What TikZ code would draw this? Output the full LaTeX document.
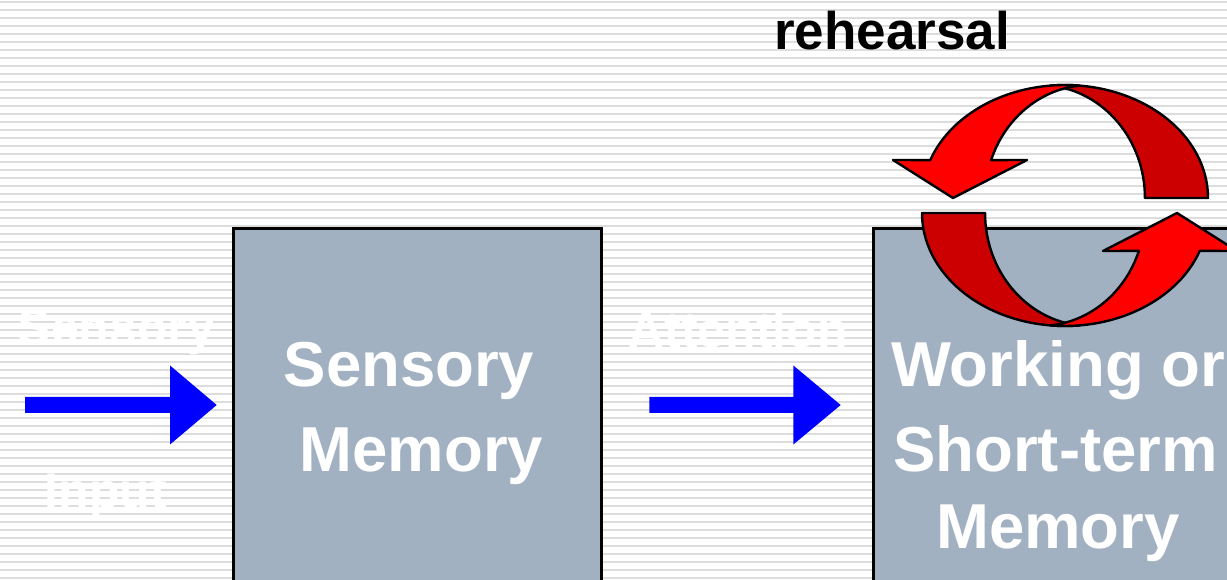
\documentclass[tikz,border=0pt]{standalone}
\usepackage{fontspec}
\setmainfont{Liberation Sans}
\definecolor{stripegray}{RGB}{221,221,221}
\definecolor{boxgray}{RGB}{162,177,194}
\definecolor{arrowblue}{RGB}{0,0,255}
\definecolor{lightred}{RGB}{255,0,0}
\definecolor{darkred}{RGB}{204,0,0}
\begin{document}
\begin{tikzpicture}[x=1pt,y=1pt,
  memtext/.style={text=white,font=\fontsize{63.5}{63.5}\selectfont\bfseries,inner sep=0pt,anchor=base},
  hidtext/.style={text=white,font=\fontsize{50}{50}\selectfont\bfseries,inner sep=0pt,anchor=base},
  titletext/.style={text=black,font=\fontsize{53}{53}\selectfont\bfseries,inner sep=0pt,anchor=base},
  membox/.style={draw=black,line width=3pt,fill=boxgray},
  blockarrow/.style={fill=arrowblue},
  ribbonfront/.style={draw=black,line width=2.4pt,fill=lightred,line join=round},
  ribbonback/.style={draw=black,line width=2.4pt,fill=darkred,line join=round}]
\useasboundingbox (0,0) rectangle (1227,579);
\clip (0,0) rectangle (1227,579);
\fill[white] (0,0) rectangle (1227,579);
% striped background
\foreach \k in {0,...,72}
  \fill[stripegray] (0,{579-8*\k-1}) rectangle (1227,{579-8*\k-2.8});

% faint labels
\node[hidtext] (sensin1) at (116.5,234) {Sensory};
\node[hidtext] (sensin2) at (106,71) {Input};
\node[hidtext] (attn) at (738,231) {Attention};

% boxes
\draw[membox] (233,-10) rectangle (601,350);
\draw[membox] (873,-10) rectangle (1245,350);

\node[memtext] (sm1) at (409,192) {Sensory};
\node[memtext] (sm2) at (421.5,107) {Memory};
\node[memtext] (wm1) at (1058,192) {Working or};
\node[memtext] (wm2) at (1055.5,107) {Short-term};
\node[memtext] (wm3) at (1058,31) {Memory};

% blue block arrows
\fill[blockarrow] (25,166) -- (170,166) -- (170,134.5) -- (216.7,174)
   -- (170,213.5) -- (170,182) -- (25,182) -- cycle;
\fill[blockarrow] (649.3,166) -- (793.3,166) -- (793.3,134.5) -- (840.7,174)
   -- (793.3,213.5) -- (793.3,182) -- (649.3,182) -- cycle;

% circular rehearsal arrows
\foreach \r in {0,180}{
 \begin{scope}[rotate around={\r:(1065,373.5)}]
  \draw[ribbonback] (1208,381)
     arc[start angle=0,end angle=95.8,x radius=143pt,y radius=113pt]
     arc[start angle=84.2,end angle=0,x radius=105pt,y radius=113pt]
     -- cycle;
  \draw[ribbonfront] (1079.4,493.4)
     arc[start angle=84.2,end angle=160.4,x radius=143pt,y radius=113pt]
     -- (893,419) -- (953,381) -- (1027,419) -- (991.1,418.9)
     arc[start angle=160.4,end angle=95.8,x radius=105pt,y radius=113pt]
     -- cycle;
 \end{scope}}

\node[titletext] (reh) at (892,529) {rehearsal};
\end{tikzpicture}
\end{document}
